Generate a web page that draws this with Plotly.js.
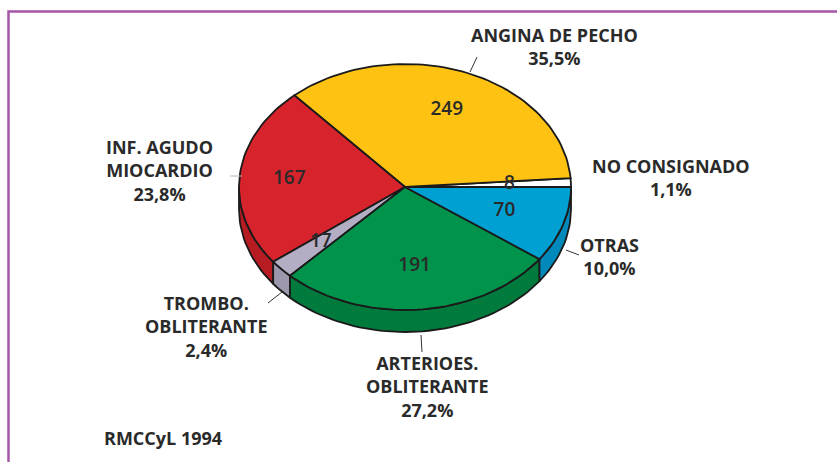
<!DOCTYPE html>
<html>
<head>
<meta charset="utf-8">
<script src="https://cdn.plot.ly/plotly-3.0.1.min.js"></script>
<style>html,body{margin:0;padding:0;background:#fff;}#chart{width:837px;height:462px;}</style>
</head>
<body>
<div id="chart"></div>
<script>
// ---- data (counterclockwise from the right, as in the source) ----
const categories = ['NO CONSIGNADO', 'ANGINA DE PECHO', 'INF. AGUDO MIOCARDIO', 'TROMBO. OBLITERANTE', 'ARTERIOES. OBLITERANTE', 'OTRAS'];
const labelLines = [['NO CONSIGNADO'], ['ANGINA DE PECHO'], ['INF. AGUDO', 'MIOCARDIO'], ['TROMBO.', 'OBLITERANTE'], ['ARTERIOES.', 'OBLITERANTE'], ['OTRAS']];
const values = [8, 249, 167, 17, 191, 70];
const sourceNote = 'RMCCyL 1994';

// ---- styling ----
const topColors  = ['#ffffff', '#fec312', '#d7242c', '#b4aec4', '#00934b', '#00a0d2'];
const sideColors = ['#e8e8e8', '#d9a000', '#b71c22', '#9d97ae', '#007a3d', '#0089ba'];
const geo = {cx: 405, cy: 187, rx: 166, ry: 123, depth: 22};
// label block centres
const labelPos = [
  {x: 671, y: 177.5}, {x: 554, y: 46}, {x: 159, y: 170},
  {x: 206, y: 326}, {x: 427, y: 386.5}, {x: 609, y: 256}
];
const valuePos = [0.63, 0.67, 0.7, 0.68, 0.65, 0.63];
const leaders = [
  null, [470, 72, 477, 57], [230, 176, 242, 176],
  [268, 303, 282, 292], [421, 335, 422, 352], [566, 250, 579, 255]
];
const FONT = '"Open Sans", "Noto Sans", sans-serif';
const ink = '#2a2a2a';

const total = values.reduce((a, b) => a + b, 0);
const pct = values.map(v => (v / total * 100).toFixed(1).replace('.', ','));

function pt(deg, dy) {
  const r = deg * Math.PI / 180;
  return [geo.cx + geo.rx * Math.cos(r), geo.cy - geo.ry * Math.sin(r) + (dy || 0)];
}

const traces = [];
let acc = 0;
const ranges = values.map(v => { const a0 = acc / total * 360; acc += v; return [a0, acc / total * 360]; });

// side walls (front half only: 180..360)
ranges.forEach((rg, i) => {
  const s = Math.max(rg[0], 180), e = Math.min(rg[1], 360);
  if (e <= s) return;
  const xs = [], ys = [];
  const n = Math.max(4, Math.ceil((e - s) / 2));
  for (let k = 0; k <= n; k++) { const p = pt(s + (e - s) * k / n); xs.push(p[0]); ys.push(p[1]); }
  for (let k = n; k >= 0; k--) { const p = pt(s + (e - s) * k / n, geo.depth); xs.push(p[0]); ys.push(p[1]); }
  xs.push(xs[0]); ys.push(ys[0]);
  traces.push({x: xs, y: ys, mode: 'lines', fill: 'toself', fillcolor: sideColors[i],
    line: {color: '#1a1a1a', width: 1.8}, hoverinfo: 'skip', showlegend: false});
});

// top faces
ranges.forEach((rg, i) => {
  const xs = [geo.cx], ys = [geo.cy];
  const n = Math.max(3, Math.ceil((rg[1] - rg[0]) / 2));
  for (let k = 0; k <= n; k++) { const p = pt(rg[0] + (rg[1] - rg[0]) * k / n); xs.push(p[0]); ys.push(p[1]); }
  xs.push(geo.cx); ys.push(geo.cy);
  traces.push({x: xs, y: ys, mode: 'lines', fill: 'toself', fillcolor: topColors[i],
    line: {color: '#1a1a1a', width: 1.8}, name: categories[i], hoverinfo: 'name', showlegend: false});
});

// value labels
const vx = [], vy = [];
ranges.forEach((rg, i) => {
  const r = (rg[0] + rg[1]) / 2 * Math.PI / 180;
  vx.push(geo.cx + geo.rx * valuePos[i] * Math.cos(r));
  vy.push(geo.cy - geo.ry * valuePos[i] * Math.sin(r));
});
traces.push({x: vx, y: vy, mode: 'text', text: values.map(String), textposition: 'middle center',
  textfont: {family: FONT, size: 19, color: ink, weight: 600}, hoverinfo: 'skip', showlegend: false});

const annotations = labelLines.map((lines, i) => ({
  x: labelPos[i].x, y: labelPos[i].y, xref: 'x', yref: 'y', showarrow: false,
  text: lines.concat([pct[i] + '%']).join('<br>'), align: 'center',
  xanchor: 'center', yanchor: 'middle',
  font: {family: FONT, size: 18, color: ink, weight: 700}
}));
annotations.push({x: 102, y: 438, xref: 'x', yref: 'y', xanchor: 'left', yanchor: 'middle', showarrow: false,
  text: sourceNote, font: {family: FONT, size: 18, color: ink, weight: 700}});

const shapes = [{type: 'rect', xref: 'x', yref: 'y', x0: 8.5, y0: 11.5, x1: 900, y1: 520,
  line: {color: '#a656a8', width: 2.5}, layer: 'below'}];
leaders.forEach((l, i) => {
  if (!l) return;
  shapes.push({type: 'line', xref: 'x', yref: 'y', x0: l[0], y0: l[1], x1: l[2], y1: l[3],
    line: {color: i === 2 ? '#b5b5b5' : '#333333', width: 1}});
});

const layout = {
  width: 837, height: 462, margin: {l: 0, r: 0, t: 0, b: 0},
  paper_bgcolor: '#ffffff', plot_bgcolor: '#ffffff',
  xaxis: {range: [0, 837], visible: false, fixedrange: true},
  yaxis: {range: [462, 0], visible: false, fixedrange: true},
  annotations: annotations, shapes: shapes, showlegend: false
};
Plotly.newPlot('chart', traces, layout, {displayModeBar: false, staticPlot: true});
</script>
</body>
</html>
